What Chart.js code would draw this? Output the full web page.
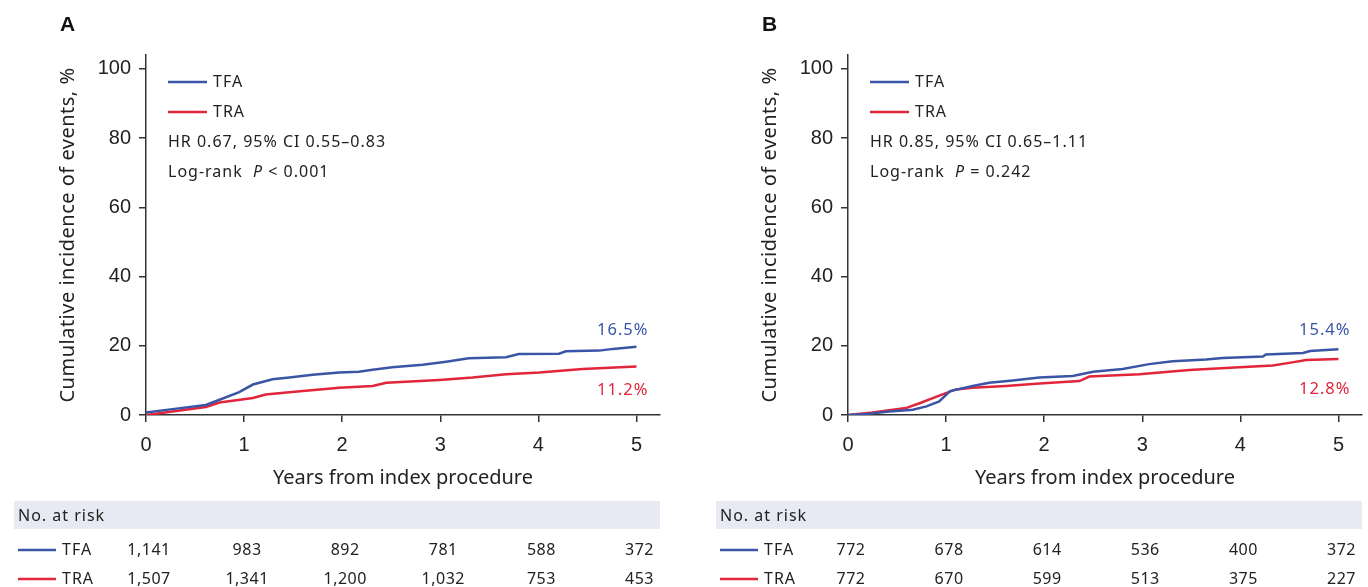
<!DOCTYPE html>
<html>
<head>
<meta charset="utf-8">
<script src="https://cdn.jsdelivr.net/npm/chart.js@4"></script>
<style>
  body { margin: 0; background: #fff; width: 1368px; height: 587px; overflow: hidden; position: relative; }
  canvas { position: absolute; top: 0; }
  #chartA { left: 0; }
  #chartB { left: 702px; }
</style>
</head>
<body>
<canvas id="chartA" width="702" height="587"></canvas>
<canvas id="chartB" width="666" height="587"></canvas>
<script>
// Panel A data
const tfaYearsA = [0, 0.27, 0.61, 0.75, 0.95, 1.09, 1.29, 1.46, 1.70, 1.97, 2.17, 2.31, 2.51, 2.82, 3.06, 3.29, 3.67, 3.80, 4.21, 4.28, 4.62, 4.76, 5.0];
const tfaRatesA = [0.7, 1.7, 2.9, 4.4, 6.6, 8.8, 10.3, 10.8, 11.6, 12.3, 12.5, 13.1, 13.8, 14.5, 15.4, 16.4, 16.7, 17.6, 17.7, 18.4, 18.6, 19.1, 19.7];
const traYearsA = [0, 0.27, 0.61, 0.75, 1.09, 1.22, 1.46, 1.97, 2.31, 2.45, 2.99, 3.33, 3.67, 4.01, 4.45, 5.0];
const traRatesA = [0, 1.0, 2.3, 3.6, 4.9, 5.9, 6.6, 7.9, 8.4, 9.3, 10.1, 10.8, 11.8, 12.3, 13.3, 14.0];

// Panel B data
const tfaYearsB = [0, 0.19, 0.42, 0.66, 0.80, 0.93, 1.04, 1.27, 1.44, 1.68, 1.95, 2.29, 2.50, 2.80, 3.07, 3.31, 3.65, 3.82, 4.23, 4.26, 4.64, 4.71, 5.0];
const tfaRatesB = [0, 0.3, 1.0, 1.5, 2.5, 3.9, 6.9, 8.4, 9.3, 10.0, 10.8, 11.3, 12.5, 13.3, 14.7, 15.5, 16.0, 16.5, 16.9, 17.5, 17.9, 18.5, 19.0];
const traYearsB = [0, 0.25, 0.59, 0.73, 0.93, 1.10, 1.27, 1.61, 1.95, 2.36, 2.46, 2.97, 3.48, 3.99, 4.33, 4.53, 4.67, 5.0];
const traRatesB = [0, 0.7, 2.0, 3.4, 5.6, 7.4, 7.9, 8.4, 9.1, 9.8, 11.1, 11.8, 13.0, 13.8, 14.3, 15.2, 15.9, 16.2];

// Number at risk table
const riskYears = [0, 1, 2, 3, 4, 5];
const riskTfaA = ['1,141', '983', '892', '781', '588', '372'];
const riskTraA = ['1,507', '1,341', '1,200', '1,032', '753', '453'];
const riskTfaB = ['772', '678', '614', '536', '400', '372'];
const riskTraB = ['772', '670', '599', '513', '375', '227'];

const yTicks = [0, 20, 40, 60, 80, 100];
const xTicks = [0, 1, 2, 3, 4, 5];

const BLUE = '#3a55a6';
const RED = '#e1253b';
const INK = '#222';
const SANS = '"Noto Sans", "Open Sans", sans-serif';
const ARIAL = '"Liberation Sans", Arial, sans-serif';

function toPoints(xs, ys) {
    return xs.map((x, i) => ({ x: x, y: ys[i] }));
}

// small helper so every label can get its own spacing
function label(ctx, str, x, y, font, align, spacing) {
    ctx.font = font;
    ctx.letterSpacing = spacing || '0px';
    ctx.textAlign = align || 'left';
    ctx.fillText(str, x, y);
    const w = ctx.measureText(str).width;
    ctx.letterSpacing = '0px';
    return w;
}

// draws panel letter, axis titles, inner legend, end labels and the risk table
const panelText = {
    id: 'panelText',
    afterDraw(chart, args, o) {
        const ctx = chart.ctx;
        const area = chart.chartArea;
        const xs = chart.scales.x;
        const ys = chart.scales.y;
        const L = area.left;
        ctx.save();
        ctx.textBaseline = 'middle';

        // panel letter
        ctx.fillStyle = '#111';
        label(ctx, o.letter, L - 86, 25, 'bold 21px ' + ARIAL);

        // axis titles
        ctx.fillStyle = INK;
        label(ctx, 'Years from index procedure', (area.left + area.right) / 2, 478, '20px ' + SANS, 'center');
        ctx.save();
        ctx.translate(L - 78, (area.top + area.bottom) / 2);
        ctx.rotate(-Math.PI / 2);
        label(ctx, 'Cumulative incidence of events, %', 0, 0, '20px ' + SANS, 'center', '0.5px');
        ctx.restore();

        // legend in plot
        ctx.lineWidth = 2.5;
        [[BLUE, 'TFA', 27], [RED, 'TRA', 57]].forEach(([c, t, dy]) => {
            ctx.strokeStyle = c;
            ctx.beginPath();
            ctx.moveTo(L + 22, area.top + dy);
            ctx.lineTo(L + 61, area.top + dy);
            ctx.stroke();
            ctx.fillStyle = INK;
            label(ctx, t, L + 67, area.top + dy, '16px ' + SANS, 'left', '1px');
        });
        label(ctx, o.hr, L + 22, area.top + 87, '16px ' + SANS, 'left', '1px');
        let tx = L + 22;
        const ty = area.top + 117;
        tx += label(ctx, 'Log-rank  ', tx, ty, '16px ' + SANS, 'left', '1px');
        tx += label(ctx, 'P', tx, ty, 'italic 16px ' + SANS, 'left', '1px');
        label(ctx, o.pText, tx, ty, '16px ' + SANS, 'left', '1px');

        // end labels
        const endX = xs.getPixelForValue(5) + 12;
        ctx.fillStyle = BLUE;
        label(ctx, o.tfaEnd, endX, 330, '16.5px ' + SANS, 'right', '1px');
        ctx.fillStyle = RED;
        label(ctx, o.traEnd, endX, o.traY, '16.5px ' + SANS, 'right', '1px');

        // number at risk table
        const left = L - 132;
        ctx.fillStyle = '#e7e9f3';
        ctx.fillRect(left, 501, area.right - left, 28);
        ctx.fillStyle = INK;
        label(ctx, 'No. at risk', left + 4, 516, '16px ' + SANS, 'left', '1px');
        [[BLUE, 'TFA', o.riskTfa, 550], [RED, 'TRA', o.riskTra, 579]].forEach(([c, t, vals, y]) => {
            ctx.strokeStyle = c;
            ctx.lineWidth = 2.5;
            ctx.beginPath();
            ctx.moveTo(left + 4, y);
            ctx.lineTo(left + 42, y);
            ctx.stroke();
            ctx.fillStyle = INK;
            label(ctx, t, left + 48, y, '16px ' + SANS, 'left', '1px');
            vals.forEach((v, i) => label(ctx, v, xs.getPixelForValue(riskYears[i]) + 3, y, '16px ' + SANS, 'center', '0.5px'));
        });
        ctx.restore();
    }
};

function buildChart(id, padRight, series, text) {
    const ctx = document.getElementById(id);
    return new Chart(ctx, {
        type: 'line',
        data: {
            datasets: [
                { label: 'TFA', data: toPoints(series.tfaYears, series.tfaRates), borderColor: BLUE, borderWidth: 2.5, pointRadius: 0, tension: 0 },
                { label: 'TRA', data: toPoints(series.traYears, series.traRates), borderColor: RED, borderWidth: 2.5, pointRadius: 0, tension: 0 }
            ]
        },
        options: {
            responsive: false,
            animation: false,
            layout: { padding: { left: 0, top: 55, right: padRight, bottom: 87 } },
            plugins: {
                legend: { display: false },
                tooltip: { enabled: false },
                panelText: text
            },
            scales: {
                x: {
                    type: 'linear',
                    min: 0,
                    max: 5.24,
                    afterFit(s) { s.height = 85; },
                    afterBuildTicks(s) { s.ticks = xTicks.map(v => ({ value: v })); },
                    border: { display: true, color: '#333', width: 1.5 },
                    grid: { display: true, drawOnChartArea: false, drawTicks: true, tickLength: 7, color: '#333', lineWidth: 1.5 },
                    ticks: { color: INK, padding: 11, font: { family: ARIAL, size: 20 } }
                },
                y: {
                    min: 0,
                    max: 104,
                    afterFit(s) { s.width = 146; },
                    afterBuildTicks(s) { s.ticks = yTicks.map(v => ({ value: v })); },
                    border: { display: true, color: '#333', width: 1.5 },
                    grid: { display: true, drawOnChartArea: false, drawTicks: true, tickLength: 7, color: '#333', lineWidth: 1.5 },
                    ticks: { color: INK, padding: 8, font: { family: ARIAL, size: 20 } }
                }
            }
        },
        plugins: [panelText]
    });
}

buildChart('chartA', 42,
    { tfaYears: tfaYearsA, tfaRates: tfaRatesA, traYears: traYearsA, traRates: traRatesA },
    { letter: 'A', hr: 'HR 0.67, 95% CI 0.55\u20130.83', pText: ' < 0.001', tfaEnd: '16.5%', traEnd: '11.2%',
      traY: 390, riskTfa: riskTfaA, riskTra: riskTraA });

buildChart('chartB', 6,
    { tfaYears: tfaYearsB, tfaRates: tfaRatesB, traYears: traYearsB, traRates: traRatesB },
    { letter: 'B', hr: 'HR 0.85, 95% CI 0.65\u20131.11', pText: ' = 0.242', tfaEnd: '15.4%', traEnd: '12.8%',
      traY: 389, riskTfa: riskTfaB, riskTra: riskTraB });
</script>
</body>
</html>
